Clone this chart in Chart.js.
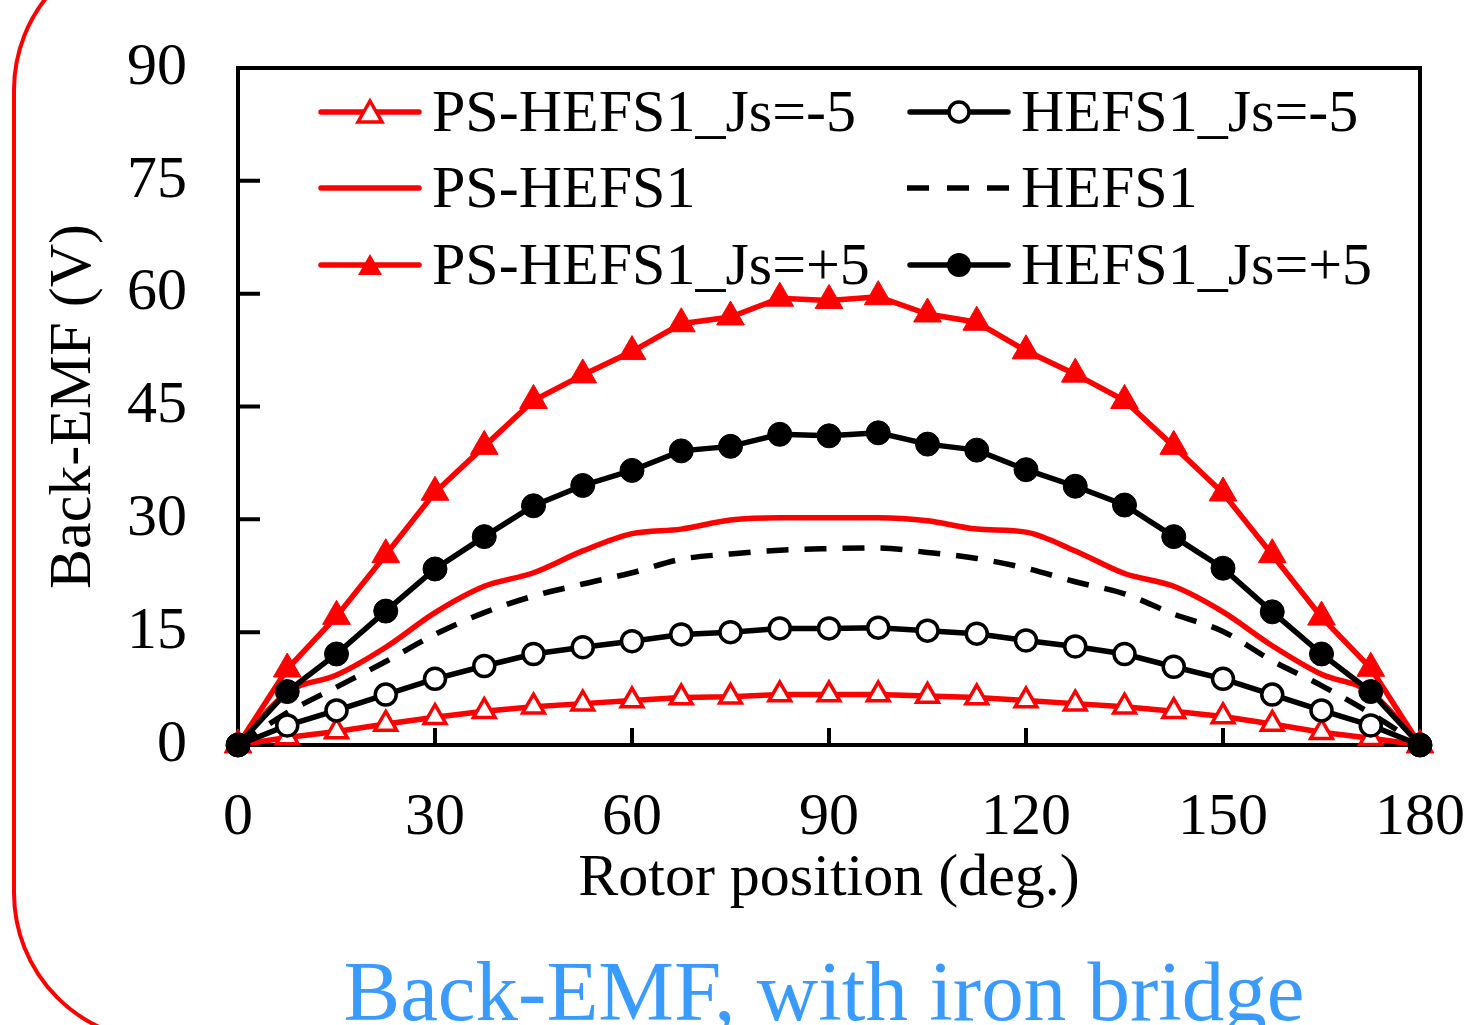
<!DOCTYPE html>
<html>
<head>
<meta charset="utf-8">
<script src="https://cdn.jsdelivr.net/npm/chart.js@4.4.1/dist/chart.umd.min.js"></script>
<style>
html,body{margin:0;padding:0;background:#fff;overflow:hidden;}
#wrap{position:relative;width:1477px;height:1025px;overflow:hidden;background:#fff;}
#frame{position:absolute;left:12px;top:-60px;width:1700px;height:1103px;border:4.5px solid #ff0000;border-radius:150px;box-sizing:border-box;}
#cap{position:absolute;left:0;top:949px;width:1648px;text-align:center;font-family:"Liberation Serif","Times New Roman",serif;font-size:85px;line-height:85px;color:rgb(58,155,255);white-space:nowrap;}
#c{position:absolute;left:0;top:0;}
</style>
</head>
<body>
<div id="wrap">
  <div id="frame"></div>
  <div id="cap">Back-EMF, with iron bridge</div>
  <canvas id="c" width="1477" height="1025"></canvas>
</div>
<script>
// ---- data ----
const rotorPos   = [0,7.5,15,22.5,30,37.5,45,52.5,60,67.5,75,82.5,90,97.5,105,112.5,120,127.5,135,142.5,150,157.5,165,172.5,180];
const psJsNeg5   = [0,1.0,1.8,2.8,3.7,4.5,5.1,5.5,5.9,6.3,6.4,6.7,6.7,6.7,6.5,6.3,5.9,5.5,5.1,4.5,3.8,2.8,1.7,0.9,0];
const ps         = [0,7.0,9.3,13.0,17.6,21.1,22.9,25.8,28.1,28.7,29.9,30.2,30.2,30.2,29.8,28.7,28.3,25.8,22.8,21.1,17.7,13.2,9.4,7.0,0];
const psJsPos5   = [0,10.1,17.1,25.3,33.6,39.7,45.8,49.2,52.3,56.0,56.9,59.4,59.1,59.6,57.3,56.2,52.4,49.3,45.8,39.7,33.5,25.3,17.0,10.2,0];
const hefsJsNeg5 = [0,2.6,4.6,6.7,8.8,10.5,12.1,13.0,13.8,14.7,15.0,15.5,15.5,15.6,15.2,14.8,13.9,13.1,12.1,10.4,8.8,6.7,4.6,2.6,0];
const hefs       = [0,4.3,7.7,11.1,14.7,17.6,19.8,21.4,22.9,24.7,25.4,25.9,26.1,26.2,25.6,24.8,23.5,21.7,20.1,17.4,15.1,11.2,7.9,4.2,0];
const hefsJsPos5 = [0,7.1,12.1,17.8,23.4,27.7,31.8,34.5,36.5,39.1,39.7,41.3,41.1,41.5,40.0,39.2,36.6,34.4,31.9,27.7,23.5,17.7,12.1,7.1,0];
const xTicks = [0,30,60,90,120,150,180];
const yTicks = [0,15,30,45,60,75,90];
const labels = ["PS-HEFS1_Js=-5","PS-HEFS1","PS-HEFS1_Js=+5","HEFS1_Js=-5","HEFS1","HEFS1_Js=+5"];

const FONT = '"Liberation Serif","Times New Roman",serif';
const RED = '#ff0000', BLK = '#000000';
const pts = arr => arr.map((v,i)=>({x:rotorPos[i], y:v}));

// legend description (column, row, marker)
const legendSpec = [
  {label:labels[0], col:0,row:0,color:RED,marker:'triOpen'},
  {label:labels[1], col:0,row:1,color:RED,marker:null},
  {label:labels[2], col:0,row:2,color:RED,marker:'triFill'},
  {label:labels[3], col:1,row:0,color:BLK,marker:'cirOpen'},
  {label:labels[4], col:1,row:1,color:BLK,marker:null,dash:[22,18]},
  {label:labels[5], col:1,row:2,color:BLK,marker:'cirFill'}
];

const framePlugin = {
  id:'frameTicks',
  beforeDatasetsDraw(chart){
    const {ctx, chartArea:{left,right,top,bottom}, scales:{x,y}} = chart;
    ctx.save();
    ctx.strokeStyle = '#000';
    ctx.lineWidth = 4;
    ctx.strokeRect(left, top, right-left, bottom-top);
    ctx.beginPath();
    xTicks.forEach(v=>{ if(v>0 && v<180){ const px=x.getPixelForValue(v); ctx.moveTo(px,bottom); ctx.lineTo(px,bottom-17);} });
    yTicks.forEach(v=>{ if(v>0 && v<90){ const py=y.getPixelForValue(v); ctx.moveTo(left,py); ctx.lineTo(left+22,py);} });
    ctx.stroke();
    ctx.restore();
  }
};

const legendPlugin = {
  id:'customLegend',
  afterDraw(chart){
    const ctx = chart.ctx;
    const colX = [318, 907], rowY = [112, 188, 265], lineW = 104;
    ctx.save();
    legendSpec.forEach(it=>{
      const x0 = colX[it.col], y0 = rowY[it.row];
      ctx.strokeStyle = it.color; ctx.lineWidth = 5.5;
      ctx.lineCap = it.dash ? 'butt' : 'round';
      ctx.setLineDash(it.dash || []);
      ctx.beginPath(); ctx.moveTo(x0 + (it.dash?0:3), y0); ctx.lineTo(x0+lineW-(it.dash?0:3), y0); ctx.stroke();
      ctx.setLineDash([]);
      const cx = x0 + lineW/2;
      if (it.marker==='triOpen' || it.marker==='triFill'){
        ctx.beginPath();
        ctx.moveTo(cx, y0-11); ctx.lineTo(cx+12, y0+10); ctx.lineTo(cx-12, y0+10); ctx.closePath();
        if (it.marker==='triOpen'){ ctx.fillStyle='#fff'; ctx.fill(); ctx.lineWidth=3.5; ctx.lineJoin='miter'; ctx.strokeStyle=it.color; ctx.stroke(); }
        else { ctx.fillStyle=it.color; ctx.fill(); }
      } else if (it.marker==='cirOpen'){
        ctx.beginPath(); ctx.arc(cx,y0,10,0,Math.PI*2); ctx.fillStyle='#fff'; ctx.fill(); ctx.lineWidth=3.5; ctx.strokeStyle=it.color; ctx.stroke();
      } else if (it.marker==='cirFill'){
        ctx.beginPath(); ctx.arc(cx,y0,12,0,Math.PI*2); ctx.fillStyle=it.color; ctx.fill();
      }
      ctx.fillStyle = '#000';
      ctx.font = '60px ' + FONT;
      ctx.textAlign = 'left'; ctx.textBaseline = 'alphabetic';
      ctx.fillText(it.label, x0 + lineW + 10, y0 + 19);
    });
    ctx.restore();
  }
};

new Chart(document.getElementById('c'), {
  type:'line',
  data:{
    datasets:[
      {label:labels[5], data:pts(hefsJsPos5), borderColor:BLK, borderWidth:5.5, pointStyle:'circle', pointRadius:12, pointBackgroundColor:BLK, pointBorderColor:BLK, pointBorderWidth:1, tension:0, clip:false},
      {label:labels[3], data:pts(hefsJsNeg5), borderColor:BLK, borderWidth:5.5, pointStyle:'circle', pointRadius:10.5, pointBackgroundColor:'#fff', pointBorderColor:BLK, pointBorderWidth:3.5, tension:0, clip:false},
      {label:labels[4], data:pts(hefs), borderColor:BLK, borderWidth:5.5, borderDash:[22,16], pointRadius:0, cubicInterpolationMode:'monotone', clip:false},
      {label:labels[2], data:pts(psJsPos5), borderColor:RED, borderWidth:5.5, pointStyle:'triangle', pointRadius:16, pointBackgroundColor:RED, pointBorderColor:RED, pointBorderWidth:1, tension:0, clip:false},
      {label:labels[1], data:pts(ps), borderColor:RED, borderWidth:5.5, pointRadius:0, cubicInterpolationMode:'monotone', clip:false},
      {label:labels[0], data:pts(psJsNeg5), borderColor:RED, borderWidth:5.5, pointStyle:'triangle', pointRadius:12.5, pointBackgroundColor:'#fff', pointBorderColor:RED, pointBorderWidth:3.5, tension:0, clip:false}
    ]
  },
  options:{
    responsive:false,
    animation:false,
    devicePixelRatio:1,
    layout:{padding:{left:0,right:57,top:68,bottom:0}},
    plugins:{legend:{display:false}, tooltip:{enabled:false}},
    elements:{line:{fill:false}},
    scales:{
      x:{
        type:'linear', min:0, max:180,
        afterBuildTicks(s){ s.ticks = xTicks.map(v=>({value:v})); },
        afterFit(s){ s.height = 280; s.paddingLeft = 0; s.paddingRight = 0; },
        grid:{display:false, drawTicks:false},
        border:{display:false},
        ticks:{color:'#000', font:{family:FONT, size:60, lineHeight:1}, padding:43, maxRotation:0, autoSkip:false},
        title:{display:true, text:'Rotor position (deg.)', color:'#000', font:{family:FONT, size:60, lineHeight:1}, padding:{top:0,bottom:116}}
      },
      y:{
        type:'linear', min:0, max:90,
        afterBuildTicks(s){ s.ticks = yTicks.map(v=>({value:v})); },
        afterFit(s){ s.width = 238; s.paddingTop = 0; s.paddingBottom = 0; },
        grid:{display:false, drawTicks:false},
        border:{display:false},
        ticks:{color:'#000', font:{family:FONT, size:60, lineHeight:1}, padding:51},
        title:{display:true, text:'Back-EMF (V)', color:'#000', font:{family:FONT, size:60, lineHeight:1}, padding:{top:44,bottom:0}}
      }
    }
  },
  plugins:[framePlugin, legendPlugin]
});
</script>
</body>
</html>
